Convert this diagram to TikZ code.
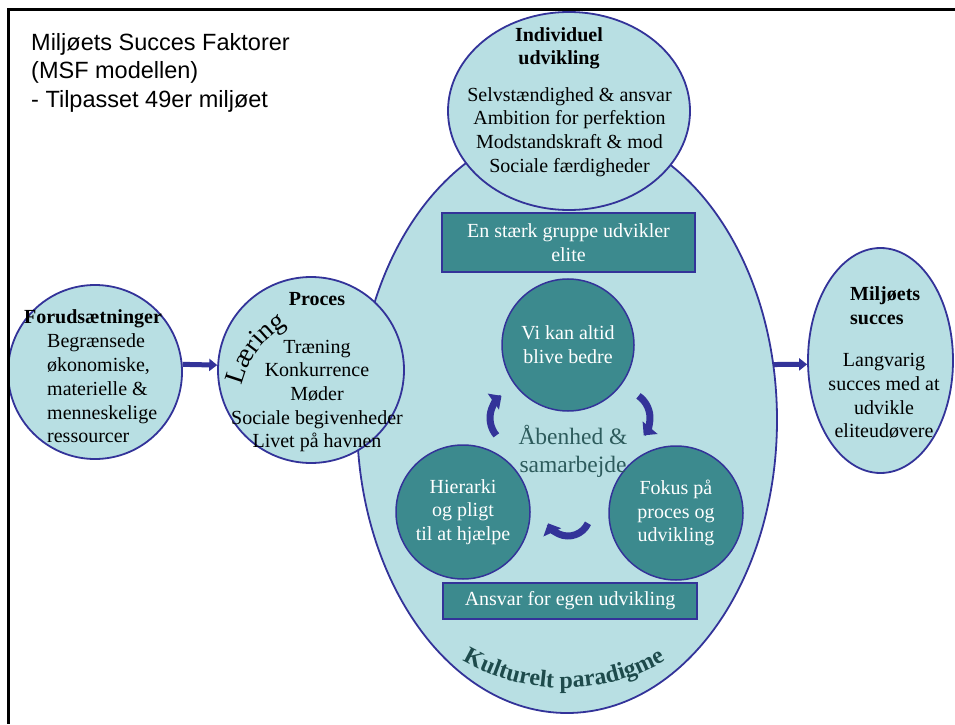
\documentclass[tikz,border=0pt]{standalone}
\usepackage{fontspec}
\setmainfont{Liberation Serif}
\newfontfamily\titlefont{Liberation Sans}
\usetikzlibrary{shapes.geometric,arrows.meta,decorations.text}

\definecolor{lightfill}{HTML}{B8DFE3}
\definecolor{rim}{HTML}{333399}
\definecolor{tealfill}{HTML}{3C8A8E}
\definecolor{darktext}{HTML}{2D5B5C}
\definecolor{culture}{HTML}{1E4B4C}

\newcommand{\bodysize}{\fontsize{20}{23.7}\selectfont}

\begin{document}
\begin{tikzpicture}[x=1pt, y=1pt,
    bubble/.style={draw=rim, line width=1.8pt, fill=lightfill, inner sep=0pt},
    core/.style={draw=rim, line width=1.5pt, fill=tealfill, inner sep=0pt,
        align=center, font=\bodysize, text=white},
    txt/.style={inner sep=0pt, align=center, font=\bodysize},
    flow/.style={draw=rim, line width=5pt, -{Triangle[length=8pt,width=12pt]}},
    cyc/.style={draw=rim, line width=7pt, -{Triangle[length=10pt,width=19pt]}}]
    \useasboundingbox (0,0) rectangle (955,724);
    % Draw the big shapes
    \node[bubble, ellipse, minimum width=420pt, minimum height=586pt] (kultur) at (567,304) {};
    \node[bubble, ellipse, minimum width=242pt, minimum height=198pt] (indiv) at (569,613) {};
    \node[bubble, circle, minimum size=186pt] (proces) at (311,354) {};
    \node[bubble, circle, minimum size=174pt] (forud) at (95,352) {};
    \node[bubble, ellipse, minimum width=145pt, minimum height=225pt] (miljo) at (880.5,363.5) {};
    % Draw the culture core
    \node[core, rectangle, minimum width=253pt, minimum height=59pt] (gruppe) at (568.5,481.5) {En stærk gruppe udvikler\\elite};
    \node[core, rectangle, minimum width=254pt, minimum height=36pt] (ansvar) at (570,123) {Ansvar for egen udvikling};
    \node[core, circle, minimum size=132pt] (vikan) at (568,379) {Vi kan altid\\blive bedre};
    \node[core, circle, minimum size=134pt] (hierarki) at (463,212) {Hierarki\\og pligt\\til at hjælpe};
    \node[core, circle, minimum size=134pt] (fokus) at (676,211) {Fokus på\\proces og\\udvikling};
    % Draw the cycle arrows
    \foreach \cx/\cy/\sa/\ea/\r in {517/306/220/125/27, 623/306/55/-40/27, 568/210/-25/-155/22} {
            \draw[cyc] ([shift={(\sa:\r)}]\cx,\cy) arc[start angle=\sa, end angle=\ea, radius=\r];
        }
    \node[txt, font=\fontsize{23.5}{28}\selectfont, text=darktext] (aabenhed) at (573,273) {Åbenhed \&\\samarbejde};
    % Texts of the outer shapes
    \node[inner sep=0pt, align=left, anchor=west, font=\titlefont\fontsize{23.5}{28.5}\selectfont] (title) at (31,651.5)
        {Miljøets Succes Faktorer\\(MSF modellen)\\- Tilpasset 49er miljøet};
    \node[txt, font=\bodysize\bfseries] (indivhead) at (559,675.6) {Individuel\\udvikling};
    \node[txt] (indivbody) at (569.5,592) {Selvstændighed \& ansvar\\Ambition for perfektion\\Modstandskraft \& mod\\Sociale færdigheder};
    \node[txt, font=\bodysize\bfseries, anchor=base] (proceshead) at (317,419) {Proces};
    \node[txt] (procesbody) at (317,328) {Træning\\Konkurrence\\Møder\\Sociale begivenheder\\Livet på havnen};
    \node[txt, font=\bodysize\bfseries, anchor=base] (forudhead) at (93,401) {Forudsætninger};
    \node[txt, align=left, anchor=west] (forudbody) at (47,335.5) {Begrænsede\\økonomiske,\\materielle \&\\menneskelige\\ressourcer};
    \node[txt, align=left, anchor=west, font=\bodysize\bfseries] (miljohead) at (850,418.5) {Miljøets\\succes};
    \node[txt] (miljobody) at (884,328) {Langvarig\\succes med at\\udvikle\\eliteudøvere};
    % Curved labels
    \path[decorate, decoration={text along path, text align=center,
            text={|\fontsize{27}{31}\selectfont|Læring}}]
        ([shift={(174:94)}]333,317) arc[start angle=174, end angle=112, radius=94];
    \path[decorate, decoration={text along path, text align=center, text color=culture,
            text={|\fontsize{24}{28}\selectfont\bfseries|Kulturelt paradigme}}]
        ([shift={(225:200)}]564,236) arc[start angle=225, end angle=315, radius=200];
    % Draw the flow arrows
    \draw[flow] (forud.5) -- (proces.177);
    \draw[flow] (kultur.15) -- (miljo.183);
    % Frame
    \draw[line width=3pt] (955,714) -| (8.5,0);
\end{tikzpicture}
\end{document}
